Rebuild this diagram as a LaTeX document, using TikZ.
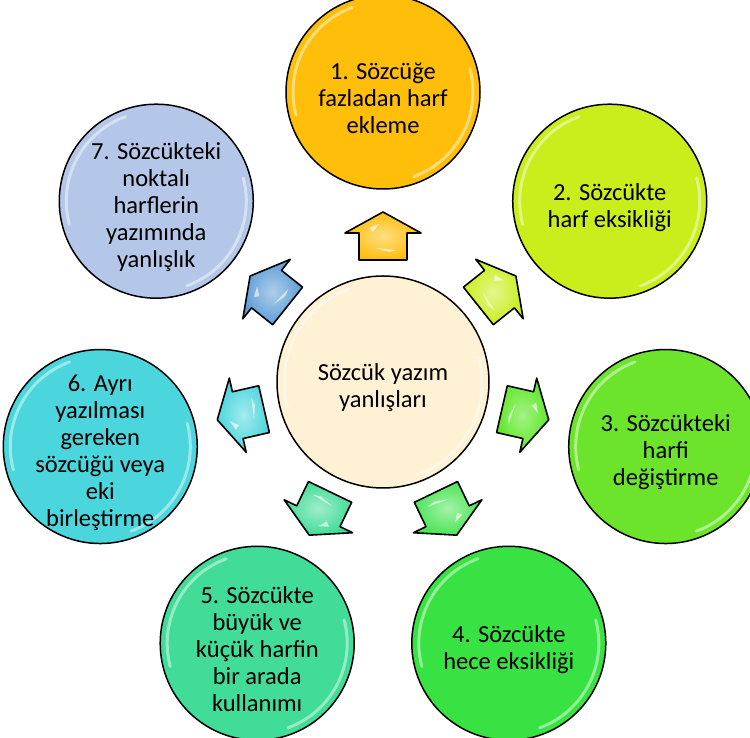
\documentclass[tikz,border=0pt]{standalone}
\usepackage{fontspec}
\setmainfont{Carlito}
\usetikzlibrary{calc}
\definecolor{cHub}{HTML}{FEF1D4}
\definecolor{cA}{HTML}{FFBE0A}
\definecolor{cB}{HTML}{C9EE1C}
\definecolor{cC}{HTML}{6CE42C}
\definecolor{cD}{HTML}{38E242}
\definecolor{cE}{HTML}{40DC98}
\definecolor{cF}{HTML}{4AD6DC}
\definecolor{cG}{HTML}{B4C7E8}
\definecolor{aG}{HTML}{5D9DD6}
\tikzset{
  bubble/.style={circle, draw=black, line width=1.5pt, minimum size=194pt, inner sep=0pt},
  hubstyle/.style={bubble, minimum size=212pt},
  label text/.style={align=center, inner sep=0pt, font=\fontsize{24.5}{27}\selectfont, text=black},
  arrowshape/.style={draw=black, line width=1.6pt, line join=round},
  shine/.style={white, line width=3pt, opacity=0.45, line cap=round},
}
\newcommand{\glossarrow}[2]{%
  \begin{scope}[rotate=#1]
    \path[arrowshape, shading=radial, inner color=white!50!#2, outer color=#2]
      (122,-24) -- (149,-24) -- (149,-38) -- (170,0) -- (149,38) -- (149,24) -- (122,24) -- cycle;
    \fill[white, opacity=0.6] (150,10) -- (158,4) -- (154,14) -- cycle;
    \fill[white, opacity=0.6] (132,-14) -- (134,8) -- (130,-6) -- cycle;
  \end{scope}}
\newcommand{\shinecircle}[2]{%
  \draw[shine] ($(#1)+(110:#2)$) arc (110:195:#2);
  \draw[shine] ($(#1)+(-70:#2)$) arc (-70:15:#2);}
\begin{document}
\begin{tikzpicture}[x=1pt,y=1pt]
\useasboundingbox (0,0) rectangle (750,738);
\clip (0,0) rectangle (750,738);
\begin{scope}[shift={(383,356)}]
  \node[hubstyle, fill=cHub] (hub) at (0,0) {};
  \node[bubble, fill=cA] (c1) at (90:290) {};
  \node[bubble, fill=cB] (c2) at (38.57:290) {};
  \node[bubble, fill=cC] (c3) at (-12.86:290) {};
  \node[bubble, fill=cD] (c4) at (-64.29:290) {};
  \node[bubble, fill=cE] (c5) at (-115.71:290) {};
  \node[bubble, fill=cF] (c6) at (192.86:290) {};
  \node[bubble, fill=cG] (c7) at (141.43:290) {};
  \shinecircle{hub}{99}
  \shinecircle{c1}{90}
  \shinecircle{c2}{90}
  \shinecircle{c3}{90}
  \shinecircle{c4}{90}
  \shinecircle{c5}{90}
  \shinecircle{c6}{90}
  \shinecircle{c7}{90}
  \node[label text] (t0) at ([yshift=-6pt]hub.center) {Sözcük yazım\\yanlışları};
  \node[label text] (t1) at ([yshift=-6pt]c1.center) {1. Sözcüğe\\fazladan harf\\ekleme};
  \node[label text] (t2) at ([yshift=-6pt]c2.center) {2. Sözcükte\\harf eksikliği};
  \node[label text] (t3) at ([yshift=-6pt]c3.center) {3. Sözcükteki\\harfi\\değiştirme};
  \node[label text] (t4) at ([yshift=-6pt]c4.center) {4. Sözcükte\\hece eksikliği};
  \node[label text] (t5) at ([yshift=-6pt]c5.center) {5. Sözcükte\\büyük ve\\küçük harfin\\bir arada\\kullanımı};
  \node[label text] (t6) at ([yshift=-6pt]c6.center) {6. Ayrı\\yazılması\\gereken\\sözcüğü veya\\eki\\birleştirme};
  \node[label text] (t7) at ([yshift=-6pt]c7.center) {7. Sözcükteki\\noktalı\\harflerin\\yazımında\\yanlışlık};
  \glossarrow{90}{cA}
  \glossarrow{38.57}{cB}
  \glossarrow{-12.86}{cC!90!green}
  \glossarrow{-64.29}{cD!90!white}
  \glossarrow{-115.71}{cE}
  \glossarrow{192.86}{cF}
  \glossarrow{141.43}{aG}
\end{scope}
\end{tikzpicture}
\end{document}
